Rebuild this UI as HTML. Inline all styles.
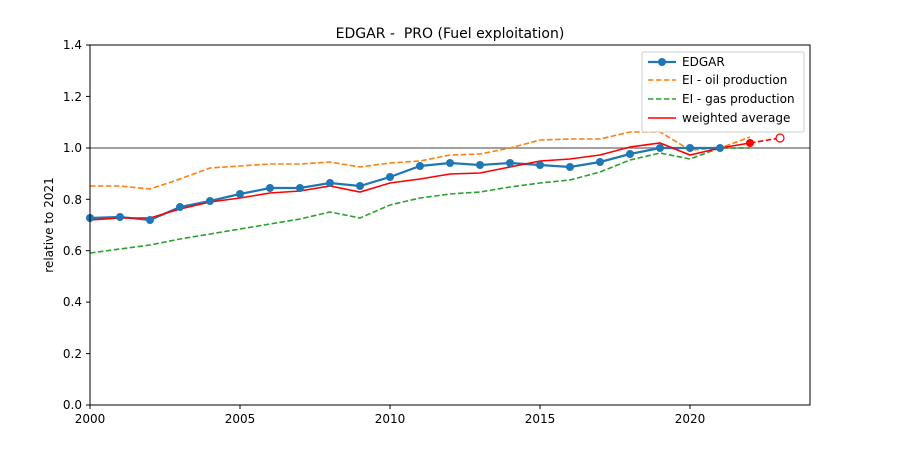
<!DOCTYPE html><html><head><style>body{margin:0;background:#fff}svg text{font-family:"DejaVu Sans","Liberation Sans",sans-serif;fill:#000}</style></head><body>
<svg width="900" height="450" xmlns="http://www.w3.org/2000/svg">
<rect width="900" height="450" fill="#fff"/>
<text x="450" y="38" font-size="14" text-anchor="middle">EDGAR -&#160; PRO (Fuel exploitation)</text>
<line x1="90" y1="148" x2="810" y2="148" stroke="#808080" stroke-width="1.5"/>
<g fill="none" stroke-width="1.6">
<polyline stroke="#2ca02c" stroke-dasharray="5.5,2.5" points="90,253 120,249 150,245 180,239 210,234 240,229 270,224 300,219 330,212 360,218 390,205 420,198 450,194 480,192 510,187 540,183 570,180 600,172 630,160 660,153 690,159 720,148 750,148"/>
<polyline stroke="#ff7f0e" stroke-dasharray="5.5,2.5" points="90,186 120,186 150,189 180,179 210,168 240,166 270,164 300,164 330,162 360,167 390,163 420,161 450,155 480,154 510,148 540,140 570,139 600,139 630,132 660,132 690,150 720,148 750,137"/>
<polyline stroke="#1f77b4" stroke-width="2.2" points="90,218 120,217 150,220 180,207 210,201 240,194 270,188 300,188 330,183 360,186 390,177 420,166 450,163 480,165 510,163 540,165 570,167 600,162 630,154 660,148 690,148 720,148"/>
<polyline stroke="red" points="90,220 120,218 150,218 180,209 210,202 240,198 270,193 300,191 330,186 360,192 390,183 420,179 450,174 480,173 510,167 540,161 570,159 600,155 630,147 660,143 690,155 720,148 750,143"/>
<line x1="750" y1="143" x2="780" y2="138" stroke="red" stroke-dasharray="5.5,2.5"/>
</g>
<g fill="#1f77b4">
<circle cx="90" cy="218" r="4"/><circle cx="120" cy="217" r="4"/><circle cx="150" cy="220" r="4"/><circle cx="180" cy="207" r="4"/><circle cx="210" cy="201" r="4"/><circle cx="240" cy="194" r="4"/><circle cx="270" cy="188" r="4"/><circle cx="300" cy="188" r="4"/><circle cx="330" cy="183" r="4"/><circle cx="360" cy="186" r="4"/><circle cx="390" cy="177" r="4"/><circle cx="420" cy="166" r="4"/><circle cx="450" cy="163" r="4"/><circle cx="480" cy="165" r="4"/><circle cx="510" cy="163" r="4"/><circle cx="540" cy="165" r="4"/><circle cx="570" cy="167" r="4"/><circle cx="600" cy="162" r="4"/><circle cx="630" cy="154" r="4"/><circle cx="660" cy="148" r="4"/><circle cx="690" cy="148" r="4"/><circle cx="720" cy="148" r="4"/>
</g>
<circle cx="750" cy="143" r="4" fill="red"/>
<circle cx="780" cy="138" r="4" fill="#fff" stroke="red" stroke-width="1.2"/>
<rect x="90" y="45" width="720" height="360" fill="none" stroke="#000" stroke-width="1"/>
<g stroke="#000">
<line x1="86" y1="405" x2="90" y2="405"/><line x1="86" y1="353.6" x2="90" y2="353.6"/><line x1="86" y1="302.1" x2="90" y2="302.1"/><line x1="86" y1="250.7" x2="90" y2="250.7"/><line x1="86" y1="199.3" x2="90" y2="199.3"/><line x1="86" y1="148" x2="90" y2="148"/><line x1="86" y1="96.4" x2="90" y2="96.4"/><line x1="86" y1="45" x2="90" y2="45"/>
<line x1="90" y1="405" x2="90" y2="409"/><line x1="240" y1="405" x2="240" y2="409"/><line x1="390" y1="405" x2="390" y2="409"/><line x1="540" y1="405" x2="540" y2="409"/><line x1="690" y1="405" x2="690" y2="409"/>
</g>
<g font-size="12" text-anchor="end">
<text x="82" y="409">0.0</text><text x="82" y="358">0.2</text><text x="82" y="306">0.4</text><text x="82" y="255">0.6</text><text x="82" y="204">0.8</text><text x="82" y="152">1.0</text><text x="82" y="101">1.2</text><text x="82" y="49">1.4</text>
</g>
<g font-size="12" text-anchor="middle">
<text x="90" y="423">2000</text><text x="240" y="423">2005</text><text x="390" y="423">2010</text><text x="540" y="423">2015</text><text x="690" y="423">2020</text>
</g>
<text transform="translate(53,225) rotate(-90)" font-size="12" text-anchor="middle">relative to 2021</text>
<rect x="642" y="52" width="162" height="80" fill="#fff" fill-opacity="0.8" stroke="#ccc" rx="2"/>
<g stroke-width="1.6" fill="none">
<line x1="648" y1="62" x2="676" y2="62" stroke="#1f77b4" stroke-width="2.2"/><circle cx="662" cy="62" r="4" fill="#1f77b4"/>
<line x1="648" y1="80" x2="676" y2="80" stroke="#ff7f0e" stroke-dasharray="5.5,2.5"/>
<line x1="648" y1="99" x2="676" y2="99" stroke="#2ca02c" stroke-dasharray="5.5,2.5"/>
<line x1="648" y1="118" x2="676" y2="118" stroke="red"/>
</g>
<g font-size="12"><text x="682" y="66">EDGAR</text><text x="682" y="84">EI - oil production</text><text x="682" y="103">EI - gas production</text><text x="682" y="122">weighted average</text></g>
</svg></body></html>
